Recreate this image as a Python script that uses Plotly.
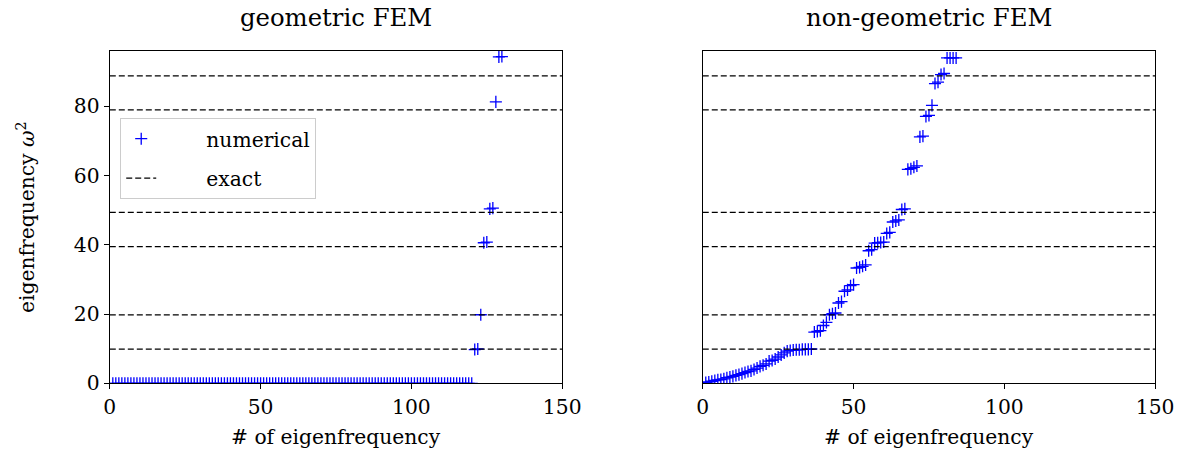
import plotly.graph_objects as go

# ---------------- data ----------------
geo_values = [0.0] * 120 + [9.75, 9.9, 19.8, 40.6, 40.8, 50.4, 50.6, 81.3, 94.3, 94.4]
nongeo_values = [
    0.2, 0.4, 0.6, 0.8, 1.0, 1.1, 1.3, 1.6, 1.8, 2.0,
    2.3, 2.5, 2.8, 3.1, 3.4, 3.6, 4.0, 4.4, 4.9, 5.2,
    5.6, 6.4, 6.6, 7.0, 7.6, 8.2, 8.8, 9.3, 9.5, 9.6,
    9.7, 9.7, 9.8, 9.8, 9.8, 9.9, 14.8, 15.0, 15.2, 16.7,
    17.6, 19.8, 20.1, 20.3, 23.2, 23.6, 26.6, 27.0, 28.2, 28.5,
    33.3, 33.5, 33.8, 34.2, 38.3, 38.6, 40.5, 40.6, 40.7, 40.8,
    43.3, 43.6, 46.6, 46.9, 47.2, 50.2, 50.4, 61.8, 62.0, 62.4,
    62.8, 71.2, 71.4, 77.1, 77.4, 80.3, 86.6, 87.0, 89.2, 89.5,
    94.0, 94.0, 94.0, 94.0,
]
exact_values = [9.87, 19.74, 39.48, 49.35, 78.96, 88.83]
x_range = [0, 150]
y_range = [0, 96]
x_ticks = [0, 50, 100, 150]
y_ticks = [0, 20, 40, 60, 80]
titles = ["geometric FEM", "non-geometric FEM"]

FONT = "DejaVu Serif"
RW, RH = 1183, 453          # target picture size
W, H = 1200, 465            # figure size (the page is photographed slightly downscaled)
S = W / RW
NB = "\u00a0"

fig = go.Figure()

def exact_xy():
    xs, ys = [], []
    for v in exact_values:
        xs += [x_range[0], x_range[1], None]
        ys += [v, v, None]
    return xs, ys

panels = [("x", "y", geo_values), ("x2", "y2", nongeo_values)]
for k, (xa, ya, vals) in enumerate(panels):
    ex, ey = exact_xy()
    fig.add_trace(go.Scatter(
        x=list(range(1, len(vals) + 1)), y=vals, mode="markers",
        marker=dict(symbol="cross-thin", size=8.5 * S, color="blue",
                    line=dict(color="blue", width=1.3 * S)),
        name=NB * 7 + "numerical", legendgroup="num", showlegend=(k == 0),
        xaxis=xa, yaxis=ya, cliponaxis=True,
    ))
    fig.add_trace(go.Scatter(
        x=ex, y=ey, mode="lines",
        line=dict(color="black", width=1.2 * S, dash="6px,3px"),
        name=NB * 7 + "exact", legendgroup="ex", showlegend=(k == 0),
        xaxis=xa, yaxis=ya,
    ))

axis_common = dict(
    showline=True, mirror=True, linecolor="black", linewidth=1.1 * S,
    ticklen=5 * S, tickwidth=1.1 * S, tickcolor="black",
    showgrid=False, zeroline=False,
    tickfont=dict(family=FONT, size=20 * S, color="black"),
)

x0a, x1a = 104.5 / RW, 560 / RW
x0b, x1b = 701.5 / RW, 1157 / RW
yb, yt = 1 - 383.3 / RH, 1 - 51 / RH

fig.update_layout(
    width=W, height=H, autosize=False,
    margin=dict(l=0, r=0, t=0, b=0, pad=0),
    paper_bgcolor="white", plot_bgcolor="white",
    font=dict(family=FONT, size=20 * S, color="black"),
    xaxis=dict(domain=[x0a, x1a], range=x_range, tickvals=x_ticks, anchor="y",
               ticks="outside", **axis_common),
    yaxis=dict(domain=[yb, yt], range=y_range, tickvals=y_ticks, anchor="x",
               ticks="outside", **axis_common),
    xaxis2=dict(domain=[x0b, x1b], range=x_range, tickvals=x_ticks, anchor="y2",
                ticks="outside", **axis_common),
    yaxis2=dict(domain=[yb, yt], range=y_range, tickvals=y_ticks, anchor="x2",
                ticks="", showticklabels=False, **axis_common),
    legend=dict(
        x=115 / RW, y=1 - 118 / RH, xanchor="left", yanchor="top",
        bgcolor="white", bordercolor="#cccccc", borderwidth=1,
        font=dict(family=FONT, size=20 * S, color="black"),
        tracegroupgap=10, traceorder="grouped",
    ),
    showlegend=True,
)

annotations = []
for t, xc in zip(titles, [(x0a + x1a) / 2, (x0b + x1b) / 2]):
    annotations.append(dict(text=t, x=xc, y=1 - 18 / RH, xref="paper", yref="paper",
                            xanchor="center", yanchor="middle", showarrow=False,
                            font=dict(family=FONT, size=24 * S, color="black")))
    annotations.append(dict(text="# of eigenfrequency", x=xc, y=1 - 437 / RH,
                            xref="paper", yref="paper", xanchor="center", yanchor="middle",
                            showarrow=False, font=dict(family=FONT, size=20 * S, color="black")))
annotations.append(dict(text="eigenfrequency <i>ω</i><sup>2</sup>", x=20 / RW, y=(yb + yt) / 2,
                        xref="paper", yref="paper", xanchor="center", yanchor="middle",
                        textangle=-90, showarrow=False,
                        font=dict(family=FONT, size=20 * S, color="black")))
fig.update_layout(annotations=annotations)

fig.write_html(
    "out.html",
    config={"responsive": False, "displayModeBar": False},
    post_script="document.body.style.margin='0';document.body.style.overflow='hidden';",
)
